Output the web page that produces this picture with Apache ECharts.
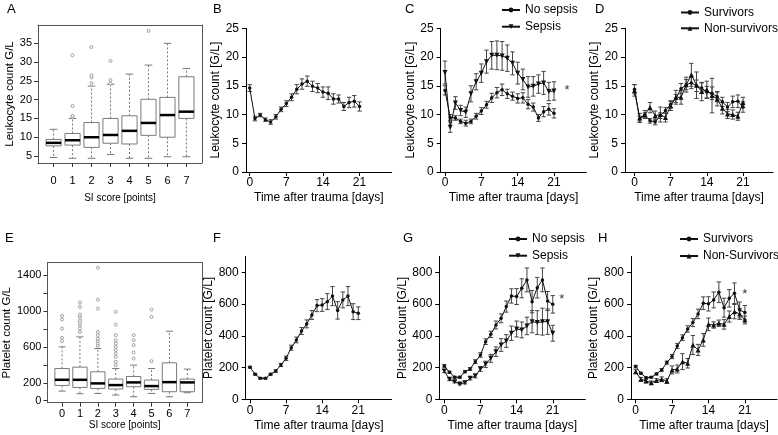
<!DOCTYPE html>
<html><head><meta charset="utf-8">
<script src="https://cdn.jsdelivr.net/npm/echarts@6/dist/echarts.min.js"></script>
<style>html,body{margin:0;padding:0;background:#fff}#c{width:778px;height:435px}</style>
</head><body><div id="c"></div>
<script>
const FONT = "'Liberation Sans', Arial, Helvetica, sans-serif";

// ---------- data ----------
const siScores = [0, 1, 2, 3, 4, 5, 6, 7];
const days = [0, 1, 2, 3, 4, 5, 6, 7, 8, 9, 10, 11, 12, 13, 14, 15, 16, 17, 18, 19, 20, 21];
const dayTicks = [0, 7, 14, 21];
const leukoTimeTicks = [0, 5, 10, 15, 20, 25];
const plateletTimeTicks = [0, 200, 400, 600, 800];
const leukoBoxTicks = [5, 10, 15, 20, 25, 30, 35];
const plateletBoxTicks = [0, 200, 400, 600, 800, 1000, 1200, 1400];
const plateletBoxLabels = [0, 200, 600, 1000, 1400];

// box stats per SI score: [low whisker, Q1, median, Q3, high whisker]
const leukoBoxStats = [
  [4.6, 7.7, 8.5, 9.4, 12.1],
  [4.4, 7.9, 9.2, 11.0, 15.0],
  [4.4, 7.3, 10.0, 13.9, 23.6],
  [5.4, 8.4, 10.6, 15.0, 24.1],
  [4.4, 8.2, 11.7, 15.7, 26.8],
  [4.4, 10.5, 13.8, 20.1, 29.2],
  [4.8, 10.0, 15.9, 20.6, 35.0],
  [4.8, 15.0, 16.8, 26.1, 28.3]
];
const leukoOutliers = [
  [1, 15.3], [1, 15.7], [1, 18.3], [1, 31.8],
  [2, 24.4], [2, 25.9], [2, 26.5], [2, 34.0],
  [3, 24.3], [3, 25.2], [3, 30.3],
  [5, 38.3]
];
const plateletBoxStats = [
  [107, 170, 233, 359, 600],
  [78, 148, 233, 374, 711],
  [81, 137, 193, 322, 581],
  [63, 130, 174, 241, 359],
  [44, 156, 204, 270, 396],
  [81, 126, 163, 230, 359],
  [44, 100, 207, 422, 774],
  [89, 100, 204, 241, 352]
];
const plateletOutliers = [
  [0, 663], [0, 700], [0, 804], [0, 904], [0, 944],
  [1, 767], [1, 804], [1, 841], [1, 870], [1, 896], [1, 933], [1, 959], [1, 1044], [1, 1093],
  [2, 611], [2, 637], [2, 663], [2, 693], [2, 730], [2, 767], [2, 1026], [2, 1126], [2, 1481],
  [3, 396], [3, 433], [3, 489], [3, 526], [3, 563], [3, 600], [3, 637], [3, 674], [3, 730], [3, 848], [3, 989],
  [4, 470], [4, 537], [4, 619], [4, 674], [4, 730],
  [5, 441], [5, 933], [5, 1015]
];

// leukocytes over time (mean, SEM)
const leukoAllMean = [14.6, 9.3, 9.9, 9.1, 8.7, 9.6, 10.9, 11.9, 13.0, 14.4, 15.3, 15.8, 14.9, 14.6, 13.9, 13.7, 12.7, 12.7, 11.4, 12.1, 12.3, 11.4];
const leukoAllErr  = [0.6, 0.4, 0.3, 0.3, 0.4, 0.4, 0.4, 0.5, 0.6, 0.8, 0.9, 0.9, 0.9, 0.8, 0.9, 1.1, 0.9, 0.7, 0.7, 0.9, 1.0, 0.8];
const leukoNoSepsisMean = [14.2, 9.5, 9.4, 8.8, 8.5, 8.8, 9.7, 10.6, 11.7, 12.9, 13.8, 14.3, 13.6, 13.2, 12.8, 12.9, 11.8, 11.3, 9.4, 10.5, 10.9, 10.2];
const leukoNoSepsisErr  = [0.8, 0.5, 0.4, 0.4, 0.5, 0.4, 0.5, 0.6, 0.6, 0.8, 0.9, 1.0, 0.8, 0.7, 0.8, 0.9, 0.8, 0.7, 0.6, 0.9, 1.0, 0.8];
const leukoSepsisMean = [17.3, 7.8, 12.0, 10.7, 10.4, 13.6, 15.7, 17.2, 19.2, 20.3, 20.3, 20.2, 19.8, 18.9, 17.2, 16.1, 14.8, 14.9, 15.3, 15.5, 14.0, 14.1];
const leukoSepsisErr  = [2.0, 0.9, 1.1, 0.9, 0.9, 1.4, 1.4, 1.6, 2.0, 2.4, 2.5, 2.5, 2.3, 2.0, 1.9, 1.8, 1.8, 1.7, 1.6, 2.0, 1.6, 1.6];
const leukoSurvMean = [14.4, 9.2, 9.9, 8.9, 8.7, 9.8, 10.7, 11.8, 12.8, 14.5, 15.2, 15.5, 15.0, 14.6, 13.9, 13.7, 13.1, 12.2, 11.3, 12.2, 12.3, 11.3];
const leukoSurvErr  = [0.8, 0.5, 0.4, 0.4, 0.5, 0.5, 0.5, 0.6, 0.7, 0.9, 0.9, 1.0, 1.0, 0.9, 1.0, 1.1, 0.9, 0.8, 0.8, 1.0, 1.1, 0.9];
const leukoNonSurvMean = [14.2, 9.4, 10.0, 11.2, 9.8, 10.0, 9.5, 11.5, 13.0, 13.0, 15.2, 16.9, 15.1, 14.0, 14.3, 13.3, 12.7, 11.1, 10.1, 10.0, 9.7, 12.1];
const leukoNonSurvErr  = [1.0, 0.8, 0.7, 0.9, 0.8, 1.3, 0.8, 0.8, 1.2, 1.2, 1.3, 2.0, 2.3, 1.6, 1.5, 3.0, 1.2, 1.0, 0.8, 0.8, 0.7, 0.9];

// platelets over time (mean, SEM)
const pltAllMean = [202, 158, 132, 132, 158, 178, 216, 258, 325, 374, 430, 475, 531, 590, 594, 615, 650, 560, 626, 650, 552, 542];
const pltAllErr  = [6, 5, 5, 5, 6, 8, 10, 14, 16, 18, 22, 25, 28, 38, 40, 50, 60, 55, 50, 60, 50, 40];
const pltNoSepsisMean = [210, 170, 139, 139, 174, 191, 237, 279, 363, 409, 468, 510, 584, 651, 647, 699, 752, 615, 703, 752, 619, 598];
const pltNoSepsisErr  = [8, 7, 6, 6, 7, 9, 12, 14, 18, 20, 25, 28, 35, 45, 50, 60, 75, 70, 65, 75, 60, 55];
const pltSepsisMean = [178, 126, 111, 97, 105, 132, 147, 191, 220, 258, 300, 342, 367, 416, 443, 437, 462, 489, 483, 489, 489, 416];
const pltSepsisErr  = [10, 8, 7, 6, 8, 10, 12, 15, 20, 25, 30, 40, 40, 45, 50, 50, 55, 70, 75, 85, 80, 50];
const pltSurvMean = [206, 164, 136, 139, 160, 185, 231, 269, 336, 388, 443, 483, 538, 605, 601, 626, 674, 577, 636, 668, 563, 546];
const pltSurvErr  = [8, 6, 5, 5, 6, 8, 10, 13, 16, 18, 20, 25, 30, 40, 45, 50, 65, 60, 55, 65, 50, 45];
const pltNonSurvMean = [174, 126, 115, 105, 118, 126, 115, 185, 191, 237, 227, 342, 311, 374, 472, 468, 479, 472, 521, 552, 538, 500];
const pltNonSurvErr  = [12, 12, 10, 10, 12, 15, 15, 25, 25, 50, 30, 60, 35, 40, 40, 20, 20, 30, 35, 45, 35, 25];

// significance markers [day, value]
const starC = [[23.5, 14.7]];
const starG = [[22.75, 651]];
const starH = [[21, 682]];

// ---------- layout ----------
const grids = [
  {left: 38, top: 25, width: 164, height: 138},        // A
  {left: 246, top: 28.3, width: 145.7, height: 143.7}, // B
  {left: 440.7, top: 28.3, width: 145.7, height: 143.7}, // C
  {left: 625, top: 28.3, width: 148, height: 143.7},   // D
  {left: 38, top: 262.7, width: 164, height: 140},     // E
  {left: 245.7, top: 256.4, width: 146, height: 142.9}, // F
  {left: 439.3, top: 256.4, width: 146, height: 142.9}, // G
  {left: 631, top: 256.4, width: 146, height: 142.9}    // H
].map(g => Object.assign({show: false}, g));

const FRAME = '#555';
const txt = (size) => ({fontSize: size, color: '#000', fontFamily: FONT});
const plain = (v) => String(v);

function boxX(gi, margin, nameGap) {
  return {gridIndex: gi, type: 'value', min: -0.82, max: 7.82, z: 6,
    axisLine: {show: true, onZero: false, lineStyle: {color: FRAME, width: 1}},
    axisTick: {show: true, customValues: siScores, length: 4, lineStyle: {color: '#333'}},
    axisLabel: Object.assign({customValues: siScores, margin: margin, formatter: plain}, txt(11)),
    splitLine: {show: false}, splitArea: {show: false},
    name: 'SI score [points]', nameLocation: 'middle', nameGap: nameGap, nameTextStyle: txt(10)};
}
function boxY(gi, min, max, ticks, labels, name, nameGap) {
  return {gridIndex: gi, type: 'value', min: min, max: max, z: 6,
    axisLine: {show: true, onZero: false, lineStyle: {color: FRAME, width: 1}},
    axisTick: {show: true, customValues: ticks, length: 4, lineStyle: {color: '#333'}},
    axisLabel: Object.assign({customValues: labels, margin: 6, formatter: plain}, txt(11)),
    splitLine: {show: false}, splitArea: {show: false},
    name: name, nameLocation: 'middle', nameGap: nameGap, nameTextStyle: txt(11.5)};
}
function frameX(gi, min, max) {
  return {gridIndex: gi, type: 'value', position: 'top', min: min, max: max, z: 6,
    axisLine: {show: true, onZero: false, lineStyle: {color: FRAME, width: 1}},
    axisTick: {show: false}, axisLabel: {show: false}, splitLine: {show: false}, splitArea: {show: false}};
}
function frameY(gi, min, max) {
  return {gridIndex: gi, type: 'value', position: 'right', min: min, max: max, z: 6,
    axisLine: {show: true, onZero: false, lineStyle: {color: FRAME, width: 1}},
    axisTick: {show: false}, axisLabel: {show: false}, splitLine: {show: false}, splitArea: {show: false}};
}
function timeX(gi, min, max) {
  return {gridIndex: gi, type: 'value', min: min, max: max,
    axisLine: {show: true, onZero: false, lineStyle: {color: '#000', width: 1}},
    axisTick: {show: true, customValues: dayTicks, length: 4, lineStyle: {color: '#000'}},
    axisLabel: Object.assign({customValues: dayTicks, margin: 5, formatter: plain}, txt(12)),
    splitLine: {show: false},
    name: 'Time after trauma [days]', nameLocation: 'middle', nameGap: 20, nameTextStyle: txt(12)};
}
function timeY(gi, max, ticks, name, nameGap) {
  return {gridIndex: gi, type: 'value', min: 0, max: max,
    axisLine: {show: true, onZero: false, lineStyle: {color: '#000', width: 1}},
    axisTick: {show: true, customValues: ticks, length: 4, lineStyle: {color: '#000'}},
    axisLabel: Object.assign({customValues: ticks, margin: 7, formatter: plain}, txt(12)),
    splitLine: {show: false},
    name: name, nameLocation: 'middle', nameGap: nameGap, nameTextStyle: txt(12)};
}

const xAxes = [
  boxX(0, 12, 30),
  timeX(1, -0.71, 27.15),
  timeX(2, -0.83, 27.24),
  timeX(3, -1.84, 26.8),
  boxX(4, 6, 18),
  timeX(5, -0.83, 27.48),
  timeX(6, -0.97, 27.3),
  timeX(7, -0.9, 27.18),
  frameX(0, -0.82, 7.82),
  frameX(4, -0.82, 7.82)
];
const yAxes = [
  boxY(0, 3.14, 39.87, leukoBoxTicks, leukoBoxTicks, 'Leukocyte count G/L', 22),
  timeY(1, 25, leukoTimeTicks, 'Leukocyte count [G/L]', 22),
  timeY(2, 25, leukoTimeTicks, 'Leukocyte count [G/L]', 22),
  timeY(3, 25, leukoTimeTicks, 'Leukocyte count [G/L]', 20),
  boxY(4, -22, 1537, plateletBoxTicks, plateletBoxLabels, 'Platelet count G/L', 25),
  timeY(5, 900, plateletTimeTicks, 'Platelet count [G/L]', 29),
  timeY(6, 900, plateletTimeTicks, 'Platelet count [G/L]', 29),
  timeY(7, 900, plateletTimeTicks, 'Platelet count [G/L]', 29),
  frameY(0, 3.14, 39.87),
  frameY(4, -22, 1537)
];

// ---------- series builders ----------
const BOXGRAY = '#7a7a7a';
function boxSeries(gi, stats) {
  return {type: 'custom', xAxisIndex: gi, yAxisIndex: gi, z: 3,
    data: siScores.map((c, i) => [c].concat(stats[i])),
    renderItem: function (params, api) {
      const c = api.value(0);
      const bw = api.size([0.8, 0])[0];
      const cx = api.coord([c, api.value(3)])[0];
      const y = (k) => api.coord([c, api.value(k)])[1];
      const yLo = y(1), yQ1 = y(2), yMd = y(3), yQ3 = y(4), yHi = y(5);
      const x0 = cx - bw / 2, x1 = cx + bw / 2;
      return {type: 'group', children: [
        {type: 'line', shape: {x1: cx, y1: yQ3, x2: cx, y2: yHi}, style: {stroke: BOXGRAY, lineWidth: 1, lineDash: [2, 2]}},
        {type: 'line', shape: {x1: cx, y1: yQ1, x2: cx, y2: yLo}, style: {stroke: BOXGRAY, lineWidth: 1, lineDash: [2, 2]}},
        {type: 'line', shape: {x1: cx - bw / 4, y1: yHi, x2: cx + bw / 4, y2: yHi}, style: {stroke: BOXGRAY, lineWidth: 1}},
        {type: 'line', shape: {x1: cx - bw / 4, y1: yLo, x2: cx + bw / 4, y2: yLo}, style: {stroke: BOXGRAY, lineWidth: 1}},
        {type: 'polygon', shape: {points: [[x0, yQ3], [x1, yQ3], [x1, yQ1], [x0, yQ1]]}, style: {stroke: BOXGRAY, fill: '#ffffff', lineWidth: 1}},
        {type: 'line', shape: {x1: x0, y1: yMd, x2: x1, y2: yMd}, style: {stroke: '#000', lineWidth: 2.5}}
      ]};
    }};
}
// outliers drawn as small open circles through the axes' coordinate mapping
function outlierSeries(gi, pts) {
  return {type: 'custom', xAxisIndex: gi, yAxisIndex: gi, z: 4, data: pts,
    renderItem: function (params, api) {
      const p = api.coord([api.value(0), api.value(1)]);
      return {type: 'circle', shape: {cx: p[0], cy: p[1], r: 1.5},
        style: {fill: '#fff', stroke: '#8a8a8a', lineWidth: 0.8}};
    }};
}
function errSeries(gi, mean, err) {
  return {type: 'custom', xAxisIndex: gi, yAxisIndex: gi, z: 2,
    data: days.map((d, i) => [d, mean[i] - err[i], mean[i] + err[i]]),
    renderItem: function (params, api) {
      const top = api.coord([api.value(0), api.value(2)]);
      const bot = api.coord([api.value(0), api.value(1)]);
      const hw = 2.2, col = '#444';
      return {type: 'group', children: [
        {type: 'line', shape: {x1: top[0], y1: top[1], x2: bot[0], y2: bot[1]}, style: {stroke: col, lineWidth: 1}},
        {type: 'line', shape: {x1: top[0] - hw, y1: top[1], x2: top[0] + hw, y2: top[1]}, style: {stroke: col, lineWidth: 1}},
        {type: 'line', shape: {x1: bot[0] - hw, y1: bot[1], x2: bot[0] + hw, y2: bot[1]}, style: {stroke: col, lineWidth: 1}}
      ]};
    }};
}
function meanSeries(gi, name, mean, symbol, size, rot) {
  return {type: 'line', name: name, xAxisIndex: gi, yAxisIndex: gi, z: 4,
    data: days.map((d, i) => [d, mean[i]]),
    symbol: symbol, symbolSize: size, symbolRotate: rot || 0, showSymbol: true,
    lineStyle: {color: '#111', width: 1}, itemStyle: {color: '#111'}};
}
function starSeries(gi, pts) {
  return {type: 'scatter', xAxisIndex: gi, yAxisIndex: gi, z: 5, data: pts,
    symbol: 'circle', symbolSize: 1, itemStyle: {color: 'rgba(0,0,0,0)'},
    label: Object.assign({show: true, formatter: '*', position: 'inside', offset: [0, 3]}, txt(13))};
}

const series = [
  boxSeries(0, leukoBoxStats), outlierSeries(0, leukoOutliers),
  boxSeries(4, plateletBoxStats), outlierSeries(4, plateletOutliers),

  errSeries(1, leukoAllMean, leukoAllErr), meanSeries(1, 'All leukocytes', leukoAllMean, 'circle', 3.5),

  errSeries(2, leukoSepsisMean, leukoSepsisErr), errSeries(2, leukoNoSepsisMean, leukoNoSepsisErr),
  meanSeries(2, 'No sepsis', leukoNoSepsisMean, 'circle', 3.5),
  meanSeries(2, 'Sepsis', leukoSepsisMean, 'triangle', 5, 180),
  starSeries(2, starC),

  errSeries(3, leukoNonSurvMean, leukoNonSurvErr), errSeries(3, leukoSurvMean, leukoSurvErr),
  meanSeries(3, 'Survivors', leukoSurvMean, 'circle', 3.5),
  meanSeries(3, 'Non-survivors', leukoNonSurvMean, 'triangle', 5),

  errSeries(5, pltAllMean, pltAllErr), meanSeries(5, 'All platelets', pltAllMean, 'circle', 3.5),

  errSeries(6, pltSepsisMean, pltSepsisErr), errSeries(6, pltNoSepsisMean, pltNoSepsisErr),
  meanSeries(6, 'No sepsis', pltNoSepsisMean, 'circle', 3.5),
  meanSeries(6, 'Sepsis', pltSepsisMean, 'triangle', 5, 180),
  starSeries(6, starG),

  errSeries(7, pltNonSurvMean, pltNonSurvErr), errSeries(7, pltSurvMean, pltSurvErr),
  meanSeries(7, 'Survivors', pltSurvMean, 'circle', 3.5),
  meanSeries(7, 'Non-Survivors', pltNonSurvMean, 'triangle', 5),
  starSeries(7, starH)
];

function legend(names, left, top, gap) {
  return {data: names, orient: 'vertical', left: left, top: top, padding: 0,
    itemWidth: 18, itemHeight: 6, itemGap: gap, selectedMode: false,
    textStyle: txt(12)};
}
const legends = [
  legend(['No sepsis', 'Sepsis'], 501, 4, 4.7),
  legend(['Survivors', 'Non-survivors'], 680, 6.5, 3.8),
  legend(['No sepsis', 'Sepsis'], 508, 233, 4.7),
  legend(['Survivors', 'Non-Survivors'], 679, 233, 5)
];

const letters = [['A', 7, 3], ['B', 213, 3], ['C', 405, 3], ['D', 595, 3],
                 ['E', 5, 232], ['F', 213, 232], ['G', 403, 232], ['H', 598, 232]];

// white plotting-area backgrounds for the two box-plot panels
const panelBacks = [grids[0], grids[4]].map(g => ({type: 'rect', z: 1, silent: true,
  shape: {x: g.left, y: g.top, width: g.width, height: g.height},
  style: {fill: '#ffffff'}}));

const chart = echarts.init(document.getElementById('c'), null, {renderer: 'canvas'});
chart.setOption({
  animation: false,
  backgroundColor: '#ffffff',
  grid: grids,
  xAxis: xAxes,
  yAxis: yAxes,
  legend: legends,
  series: series,
  graphic: panelBacks.concat(letters.map(l => ({type: 'text', left: l[1], top: l[2],
    style: {text: l[0], fontSize: 13, fill: '#000', fontFamily: FONT}})))
});
</script></body></html>
